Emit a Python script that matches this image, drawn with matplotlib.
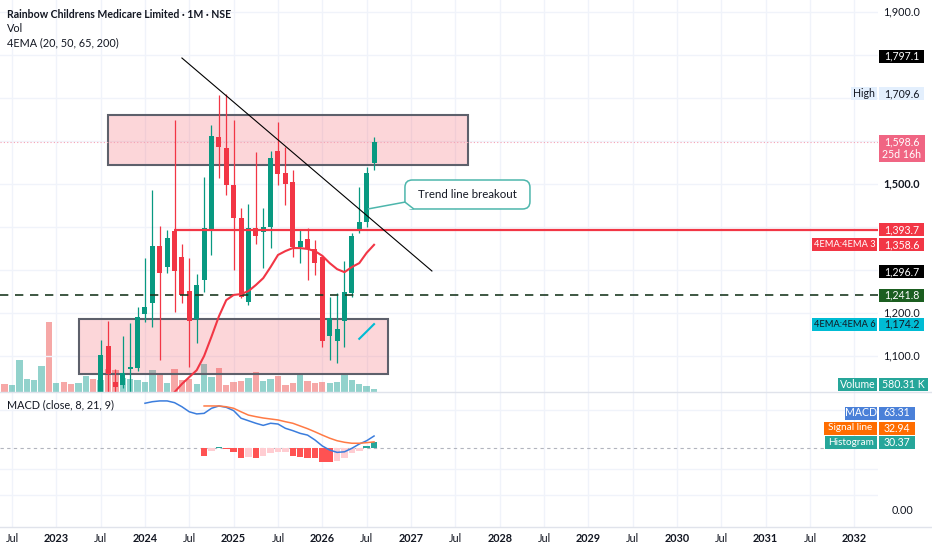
import matplotlib
matplotlib.use('Agg')
import matplotlib.pyplot as plt
from matplotlib.patches import Rectangle, FancyBboxPatch, Polygon
import numpy as np

plt.rcParams['font.family'] = ['Lato', 'DejaVu Sans']

# ---- data (months counted from Jun 2022 = 0) ----
candle_months = np.arange(13, 51)
opens = [1000, 1123, 1040, 1033, 1070, 1072, 1198, 1223, 1356, 1307, 1391, 1330, 1251,
         1186, 1277, 1391, 1609, 1584, 1498, 1421, 1226, 1398, 1388, 1400, 1577, 1526,
         1505, 1353, 1372, 1349, 1330, 1147, 1135, 1181, 1247, 1391, 1412, 1549]
highs = [1137, 1181, 1070, 1147, 1177, 1214, 1328, 1486, 1402, 1393, 1649, 1360, 1328,
         1290, 1516, 1637, 1707, 1709.6, 1649, 1444, 1453, 1574, 1444, 1577, 1644, 1586,
         1533, 1395, 1398, 1370, 1335, 1237, 1247, 1321, 1385, 1493, 1540, 1609]
lows = [985, 1010, 1012, 1025, 1015, 1065, 1179, 1167, 1091, 1293, 1202, 1223, 1074,
        1130, 1249, 1335, 1514, 1474, 1300, 1235, 1219, 1360, 1305, 1351, 1498, 1451,
        1330, 1316, 1277, 1288, 1121, 1091, 1084, 1121, 1237, 1385, 1400, 1533]
closes = [1102, 1058, 1028, 1060, 1074, 1191, 1214, 1356, 1293, 1374, 1298, 1242, 1181,
          1265, 1398, 1612, 1586, 1498, 1421, 1237, 1398, 1379, 1400, 1560, 1523, 1500,
          1353, 1367, 1349, 1316, 1135, 1188, 1163, 1249, 1379, 1412, 1526, 1598.6]

vol_months = np.arange(-1, 51)
volume_k = [18570, 1550, 1450, 6130, 2460, 2320, 4970, 13540, 1740, 1880, 1490, 1740, 3090, 2460,
            2320, 4390, 4250, 2650, 2460, 2260, 1880, 4200, 3230, 1740, 4390, 2320, 2510, 1550,
            5420, 2900, 4640, 1450, 1880, 2070, 2710, 3870, 2130, 2460, 3040, 1300, 1740, 3540,
            2130, 1800, 1880, 1740, 1880, 3350, 2380, 1490, 1100, 580.31]
pre_vol_up = [False, False, True, True, True, True, True, False, True, False, False, True, True, False]

ema_red_months = np.arange(22, 51)
ema_red = [990, 1016, 1035, 1051, 1067, 1100, 1145, 1192, 1230, 1242, 1244, 1251, 1265, 1281,
           1307, 1335, 1344, 1351, 1351, 1349, 1344, 1333, 1316, 1302, 1295, 1307, 1316, 1340, 1358.6]
ema_cyan_months = [48, 49, 50]
ema_cyan = [1140, 1157, 1174.2]

macd_months = np.arange(19, 51)
macd = [232, 240, 244, 244, 235, 214, 188, 177, 180, 206, 218, 211, 194, 155, 142, 129, 118,
        129, 125, 103, 91, 77, 68, 43, 12, -9, -21, -18, 0, 22, 39, 63.31]
signal_months = np.arange(27, 51)
signal = [218, 218, 218, 214, 206, 188, 171, 163, 156, 151, 146, 137, 129, 115, 101, 85, 68,
          52, 39, 31, 26, 26, 29, 32.94]
hist = [-38, -12, 5, -5, -17, -48, -43, -48, -40, -26, -21, -21, -40, -43, -48, -52, -68, -69,
        -65, -52, -26, -14, 12, 30.37]

price_ticks = [1100, 1200, 1500, 1900]
tick_months = [1, 7, 13, 19, 25, 31, 37, 43, 49, 55, 61, 67, 73, 79, 85, 91, 97, 103, 109, 115]
tick_labels = ['Jul', '2023', 'Jul', '2024', 'Jul', '2025', 'Jul', '2026', 'Jul', '2027', 'Jul',
               '2028', 'Jul', '2029', 'Jul', '2030', 'Jul', '2031', 'Jul', '2032']

# drawings: (month, price)
upper_zone = (14.03, 1543.5, 62.7, 1660.5)
lower_zone = (10.07, 1058, 51.84, 1186)
trend_line = ((24.0, 1793), (57.83, 1297.7))
support_level = 1393.7
support_start = 22.96
dashed_level = 1241.8
last_price = 1598.6
callout_box = (54.18, 1441.9, 71.1, 1509.3)
callout_tip = (49.17, 1441.9)

GREEN = '#089981'
RED = '#f23645'
TXT = '#131722'
GRID = '#f0f3fa'

W, H = 932, 550
fig = plt.figure(figsize=(W / 100, H / 100), dpi=100)
fig.patch.set_facecolor('white')
PLOT_RIGHT = 878


def pane(top, bot):
    return [0, (H - bot) / H, PLOT_RIGHT / W, (bot - top) / H]


X0, X1 = -0.62, 118.2
ax_vol = fig.add_axes(pane(0, 392))
ax = fig.add_axes(pane(0, 392))
ax_macd = fig.add_axes(pane(393, 527))
ax.patch.set_alpha(0)
for a in (ax_vol, ax, ax_macd):
    a.set_xlim(X0, X1)
    a.set_xticks([])
    a.set_yticks([])
    for s in a.spines.values():
        s.set_visible(False)

ax.set_ylim(1016.3, 1927.9)
ax_vol.set_ylim(0, 392 * 193.4)
ax_macd.set_ylim(-405.3, 284.8)

# grid
for m in tick_months:
    ax_vol.axvline(m, color=GRID, lw=1, zorder=0)
    ax_macd.axvline(m, color=GRID, lw=1, zorder=0)
for p in range(1100, 2000, 100):
    ax.axhline(p, color=GRID, lw=1, zorder=0)
for v in [197, -107, -240]:
    ax_macd.axhline(v, color=GRID, lw=1, zorder=0)

# volume
up_flags = pre_vol_up + [c >= o for o, c in zip(opens, closes)]
vcol = ['#26a69a' if u else '#ef5350' for u in up_flags]
ax_vol.bar(vol_months, volume_k, width=0.86, color=vcol, alpha=0.5, zorder=2)

# zones
for (xa, ya, xb, yb) in (upper_zone, lower_zone):
    ax.add_patch(Rectangle((xa, ya), xb - xa, yb - ya, facecolor=RED, alpha=0.2,
                           edgecolor='none', zorder=1))
    ax.add_patch(Rectangle((xa, ya), xb - xa, yb - ya, facecolor='none',
                           edgecolor='#5d606b', lw=1.5, zorder=1.5))

# candles
ccol = [GREEN if c >= o else RED for o, c in zip(opens, closes)]
ax.vlines(candle_months, lows, highs, colors=ccol, lw=0.9, zorder=3)
ax.bar(candle_months, np.array(closes) - np.array(opens), bottom=opens, width=0.68,
       color=ccol, zorder=4)

# levels and lines
ax.axhline(last_price, color='#f7a1b3', ls=(0, (1, 2)), lw=0.8, zorder=2)
ax.hlines(support_level, support_start, X1, color=RED, lw=1.6, zorder=5)
ax.axhline(dashed_level, color='#1d3b22', ls=(0, (5, 4)), lw=1.2, zorder=5)
ax.plot(*zip(*trend_line), color='black', lw=0.8, zorder=5)
ax.plot(ema_red_months, ema_red, color=RED, lw=1.5, zorder=5)
ax.plot(ema_cyan_months, ema_cyan, color='#00bcd4', lw=1.5, zorder=5)

# callout
bx0, by0, bx1, by1 = callout_box
ax.add_patch(FancyBboxPatch((bx0, by0), bx1 - bx0, by1 - by0,
                            boxstyle='round,pad=0,rounding_size=1.0', mutation_aspect=17.2,
                            facecolor='white', edgecolor='#4db6ac', lw=1.1, zorder=6))
ax.add_patch(Polygon([callout_tip, (bx0, by0 + 16), (bx0 + 1.2, by0)], closed=False,
                     facecolor='white', edgecolor='#4db6ac', lw=1.1, zorder=6))
ax.text((bx0 + bx1) / 2, (by0 + by1) / 2, 'Trend line breakout', ha='center', va='center',
        fontsize=8.3, color=TXT, zorder=7)

# MACD pane
ax_macd.axhline(0, color='#b2b5be', ls=(0, (3, 3)), lw=0.8, zorder=1)
hcol = []
prev = 0
for v in hist:
    if v >= 0:
        hcol.append('#26a69a' if v > prev else '#b2dfdb')
    else:
        hcol.append('#ff5252' if v < prev else '#ffcdd2')
    prev = v
ax_macd.bar(signal_months, hist, width=0.88, color=hcol, zorder=2)
ax_macd.plot(macd_months, macd, color='#3b7ddd', lw=1.1, zorder=3)
ax_macd.plot(signal_months, signal, color='#ff7a45', lw=1.1, zorder=3)

# overlay in pixel coordinates for scale texts and tags
ov = fig.add_axes([0, 0, 1, 1], zorder=10)
ov.set_xlim(0, W)
ov.set_ylim(H, 0)
ov.axis('off')
ov.patch.set_alpha(0)

ov.plot([0, W], [392, 392], color='#e0e3eb', lw=1)
ov.plot([0, W], [527, 527], color='#e0e3eb', lw=1)


def py(price):
    return H - ax.transData.transform((0, price))[1]


def px(month):
    return ax.transData.transform((month, 0))[0]


FS = 7.8


def tag(y, text, bg, fg='white', x0=879, x1=924, h=13, fs=7.6):
    ov.add_patch(Rectangle((x0, y - h / 2), x1 - x0, h, facecolor=bg, edgecolor='none',
                           zorder=4))
    ov.text((x0 + x1) / 2, y, text, color=fg, ha='center', va='center', fontsize=fs, zorder=5)


for p in price_ticks:
    ov.text(902, py(p), f'{p:,}.0', ha='center', va='center', fontsize=FS, color=TXT,
            fontweight='bold' if p == 1500 else 'normal', zorder=2)
ov.text(902, 511, '0.00', ha='center', va='center', fontsize=FS, color=TXT)

tag(py(1797.1), '1,797.1', 'black')
tag(py(1709.6), 'High', '#e3effd', TXT, 851, 877)
tag(py(1709.6), '1,709.6', '#e3effd', TXT)
ov.add_patch(Rectangle((879, 135), 46, 27, facecolor='#f06583', edgecolor='none', zorder=4))
ov.text(902, 142, '1,598.6', color='white', ha='center', va='center', fontsize=7.6, zorder=5)
ov.text(902, 155, '25d 16h', color='white', ha='center', va='center', fontsize=7.6, zorder=5)
tag(py(1393.7), '1,393.7', RED)
tag(py(1358.6), '4EMA:4EMA 3', RED, 'white', 812, 877, fs=6.7)
tag(py(1358.6), '1,358.6', RED)
tag(py(1296.7), '1,296.7', 'black')
tag(py(1241.8), '1,241.8', '#1b5e20')
tag(py(1174.2), '4EMA:4EMA 6', '#00bcd4', TXT, 812, 877, fs=6.7)
tag(py(1174.2), '1,174.2', '#00bcd4', TXT)
tag(384.5, 'Volume', '#26a69a', 'white', 838, 877)
tag(384.5, '580.31 K', '#26a69a', 'white', 879, 928)
tag(413, 'MACD', '#4a80d8', 'white', 845, 877)
tag(413, '63.31', '#4a80d8', 'white', 879, 915)
tag(428, 'Signal line', '#ff6d00', 'white', 824, 877, fs=7.2)
tag(428, '32.94', '#ff6d00', 'white', 879, 915)
tag(442.5, 'Histogram', '#26a69a', 'white', 825, 877, fs=7.2)
tag(442.5, '30.37', '#26a69a', 'white', 879, 915)

# legends
ov.text(7, 15, 'Rainbow Childrens Medicare Limited · 1M · NSE', fontsize=7.6, fontweight='bold',
        color=TXT, va='center')
ov.text(7, 29, 'Vol', fontsize=FS, color=TXT, va='center')
ov.text(7, 43, '4EMA (20, 50, 65, 200)', fontsize=FS, color=TXT, va='center')
ov.text(7, 405, 'MACD (close, 8, 21, 9)', fontsize=FS, color=TXT, va='center')

# time axis
for m, lab in zip(tick_months, tick_labels):
    ov.text(px(m), 538, lab, ha='center', va='center', fontsize=FS, color=TXT,
            fontweight='normal' if lab == 'Jul' else 'bold')

fig.savefig('out.png', dpi=100)
